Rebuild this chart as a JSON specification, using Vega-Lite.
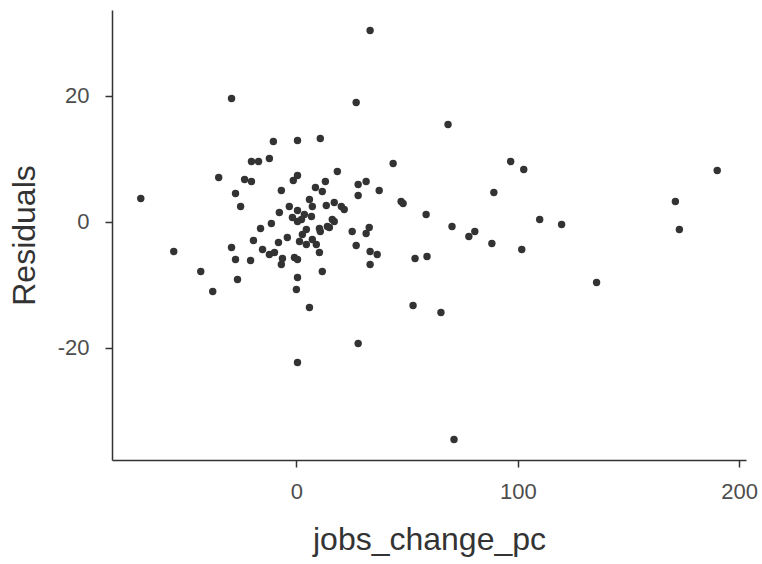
{
  "$schema": "https://vega.github.io/schema/vega-lite/v6.json",
  "width": 634,
  "height": 450,
  "autosize": "none",
  "padding": {"left": 112, "top": 10, "right": 16, "bottom": 104},
  "background": "white",
  "config": {
    "view": {"stroke": null},
    "axis": {
      "grid": false,
      "domainColor": "#333333",
      "domainWidth": 1.5,
      "tickColor": "#333333",
      "tickWidth": 1.5,
      "tickSize": 7,
      "labelFont": "Liberation Sans",
      "labelFontSize": 22,
      "labelColor": "#4d4d4d",
      "labelExpr": "'' + datum.value",
      "titleFont": "Liberation Sans",
      "titleFontSize": 32,
      "titleFontWeight": "normal",
      "titleColor": "#333333"
    }
  },
  "data": {
    "values": [
      {"jobs_change_pc": -70.3, "resid": 3.65},
      {"jobs_change_pc": -55.4, "resid": -4.76},
      {"jobs_change_pc": -43.2, "resid": -7.94},
      {"jobs_change_pc": -37.8, "resid": -11.1},
      {"jobs_change_pc": -35.1, "resid": 6.98},
      {"jobs_change_pc": -29.3, "resid": 19.52},
      {"jobs_change_pc": -29.3, "resid": -4.13},
      {"jobs_change_pc": -27.5, "resid": -6.03},
      {"jobs_change_pc": -26.6, "resid": -9.21},
      {"jobs_change_pc": -27.5, "resid": 4.44},
      {"jobs_change_pc": -25.2, "resid": 2.38},
      {"jobs_change_pc": -23.4, "resid": 6.67},
      {"jobs_change_pc": -20.3, "resid": 6.35},
      {"jobs_change_pc": -20.3, "resid": 9.52},
      {"jobs_change_pc": -17.1, "resid": 9.52},
      {"jobs_change_pc": -12.2, "resid": 10.0},
      {"jobs_change_pc": -10.4, "resid": 12.7},
      {"jobs_change_pc": -20.7, "resid": -6.19},
      {"jobs_change_pc": -19.4, "resid": -3.02},
      {"jobs_change_pc": -16.2, "resid": -1.11},
      {"jobs_change_pc": -11.3, "resid": -0.32},
      {"jobs_change_pc": -15.3, "resid": -4.44},
      {"jobs_change_pc": -12.2, "resid": -5.24},
      {"jobs_change_pc": -9.9, "resid": -4.92},
      {"jobs_change_pc": -8.1, "resid": -3.33},
      {"jobs_change_pc": -4.1, "resid": -2.54},
      {"jobs_change_pc": -6.3, "resid": -5.87},
      {"jobs_change_pc": -6.8, "resid": -6.83},
      {"jobs_change_pc": -0.9, "resid": -5.71},
      {"jobs_change_pc": 0.5, "resid": -6.03},
      {"jobs_change_pc": 0.5, "resid": -8.89},
      {"jobs_change_pc": 0.0, "resid": -10.79},
      {"jobs_change_pc": 0.5, "resid": -22.38},
      {"jobs_change_pc": 5.9, "resid": -13.65},
      {"jobs_change_pc": -6.8, "resid": 4.92},
      {"jobs_change_pc": -1.4, "resid": 6.51},
      {"jobs_change_pc": 0.5, "resid": 7.3},
      {"jobs_change_pc": 0.5, "resid": 12.86},
      {"jobs_change_pc": 8.6, "resid": 5.4},
      {"jobs_change_pc": 10.8, "resid": 13.17},
      {"jobs_change_pc": -7.7, "resid": 1.43},
      {"jobs_change_pc": -3.2, "resid": 2.38},
      {"jobs_change_pc": 0.5, "resid": 1.75},
      {"jobs_change_pc": 5.9, "resid": 3.49},
      {"jobs_change_pc": 7.2, "resid": 2.38},
      {"jobs_change_pc": 3.6, "resid": 1.11},
      {"jobs_change_pc": -1.8, "resid": 0.63},
      {"jobs_change_pc": 2.3, "resid": 0.32},
      {"jobs_change_pc": 6.8, "resid": 0.79},
      {"jobs_change_pc": 0.5, "resid": 0.0},
      {"jobs_change_pc": 1.4, "resid": -3.17},
      {"jobs_change_pc": 4.5, "resid": -3.65},
      {"jobs_change_pc": 2.7, "resid": -2.06},
      {"jobs_change_pc": 4.5, "resid": -1.27},
      {"jobs_change_pc": 7.2, "resid": -2.86},
      {"jobs_change_pc": 10.4, "resid": -4.92},
      {"jobs_change_pc": 10.8, "resid": -1.59},
      {"jobs_change_pc": 14.9, "resid": -0.95},
      {"jobs_change_pc": 17.1, "resid": 0.0},
      {"jobs_change_pc": 9.0, "resid": -3.65},
      {"jobs_change_pc": 11.7, "resid": -7.94},
      {"jobs_change_pc": 18.5, "resid": 7.94},
      {"jobs_change_pc": 13.1, "resid": 6.35},
      {"jobs_change_pc": 11.7, "resid": 4.76},
      {"jobs_change_pc": 27.9, "resid": 5.87},
      {"jobs_change_pc": 31.5, "resid": 6.35},
      {"jobs_change_pc": 27.9, "resid": 4.13},
      {"jobs_change_pc": 37.4, "resid": 4.92},
      {"jobs_change_pc": 13.5, "resid": 2.54},
      {"jobs_change_pc": 17.1, "resid": 3.02},
      {"jobs_change_pc": 20.3, "resid": 2.38},
      {"jobs_change_pc": 21.6, "resid": 1.9},
      {"jobs_change_pc": 16.2, "resid": 0.32},
      {"jobs_change_pc": 14.0, "resid": -0.79},
      {"jobs_change_pc": 10.4, "resid": -1.11},
      {"jobs_change_pc": 25.2, "resid": -1.59},
      {"jobs_change_pc": 32.9, "resid": -0.95},
      {"jobs_change_pc": 31.5, "resid": -1.9},
      {"jobs_change_pc": 27.0, "resid": -3.81},
      {"jobs_change_pc": 33.3, "resid": -4.76},
      {"jobs_change_pc": 36.5, "resid": -5.24},
      {"jobs_change_pc": 33.3, "resid": -6.83},
      {"jobs_change_pc": 27.0, "resid": 18.89},
      {"jobs_change_pc": 33.3, "resid": 30.32},
      {"jobs_change_pc": 43.7, "resid": 9.21},
      {"jobs_change_pc": 47.3, "resid": 3.17},
      {"jobs_change_pc": 48.2, "resid": 2.86},
      {"jobs_change_pc": 58.6, "resid": 1.11},
      {"jobs_change_pc": 68.5, "resid": 15.4},
      {"jobs_change_pc": 53.6, "resid": -5.87},
      {"jobs_change_pc": 59.0, "resid": -5.56},
      {"jobs_change_pc": 52.7, "resid": -13.33},
      {"jobs_change_pc": 65.3, "resid": -14.44},
      {"jobs_change_pc": 27.9, "resid": -19.37},
      {"jobs_change_pc": 71.2, "resid": -34.6},
      {"jobs_change_pc": 70.3, "resid": -0.79},
      {"jobs_change_pc": 77.9, "resid": -2.38},
      {"jobs_change_pc": 80.6, "resid": -1.59},
      {"jobs_change_pc": 88.3, "resid": -3.49},
      {"jobs_change_pc": 89.2, "resid": 4.6},
      {"jobs_change_pc": 96.8, "resid": 9.52},
      {"jobs_change_pc": 102.7, "resid": 8.25},
      {"jobs_change_pc": 109.9, "resid": 0.32},
      {"jobs_change_pc": 119.8, "resid": -0.48},
      {"jobs_change_pc": 101.8, "resid": -4.44},
      {"jobs_change_pc": 135.6, "resid": -9.68},
      {"jobs_change_pc": 171.2, "resid": 3.17},
      {"jobs_change_pc": 173.0, "resid": -1.27},
      {"jobs_change_pc": 190.1, "resid": 8.1}
    ]
  },
  "mark": {"type": "circle", "size": 55, "color": "#333333", "opacity": 1},
  "encoding": {
    "x": {
      "field": "jobs_change_pc",
      "type": "quantitative",
      "title": "jobs_change_pc",
      "scale": {"domain": [-83.3, 203.1], "nice": false, "zero": false},
      "axis": {"values": [0, 100, 200], "labelPadding": 14, "titlePadding": 22}
    },
    "y": {
      "field": "resid",
      "type": "quantitative",
      "title": "Residuals",
      "scale": {"domain": [-37.85, 33.57], "nice": false, "zero": false},
      "axis": {"values": [-20, 0, 20], "labelPadding": 16, "titlePadding": 16}
    }
  }
}
